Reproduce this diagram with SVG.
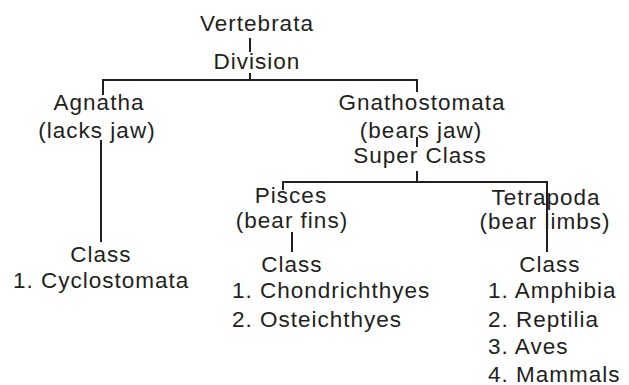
<svg xmlns="http://www.w3.org/2000/svg" width="629" height="385" viewBox="0 0 629 385">
<style>
text{font-family:"Liberation Sans",Arial,sans-serif;font-size:22.5px;letter-spacing:1px;fill:#231f20}
.c{text-anchor:middle}
.edge{stroke:#231f20;stroke-width:2;fill:none}
</style>
<rect width="629" height="385" fill="#fff"/>
<g id="connectors">
<path class="edge" d="M250 38V52"/>
<path class="edge" d="M250 73V80"/>
<path class="edge" d="M103 95V80H417V92"/>
<path class="edge" d="M101 140V242"/>
<path class="edge" d="M417 137V147"/>
<path class="edge" d="M417 171V182"/>
<path class="edge" d="M283 190V182H547V252"/>
<path class="edge" d="M292 232V252"/>
</g>
<g id="vertebrata"><text class="c" x="257" y="30.5">Vertebrata</text></g>
<g id="division"><text class="c" x="257" y="69">Division</text></g>
<g id="agnatha"><text class="c" x="99" y="110">Agnatha</text><text class="c" x="97" y="138">(lacks jaw)</text></g>
<g id="gnathostomata"><text class="c" x="422" y="110">Gnathostomata</text><text class="c" x="421" y="138">(bears jaw)</text></g>
<g id="superclass"><text class="c" x="420" y="162.5">Super Class</text></g>
<g id="pisces"><text class="c" x="291" y="202.5">Pisces</text><text class="c" x="292" y="228">(bear fins)</text></g>
<g id="tetrapoda"><text class="c" x="546" y="205">Tetrapoda</text><text class="c" x="545" y="229">(bear limbs)</text></g>
<g id="class-agnatha"><text class="c" x="101" y="261.5">Class</text><text x="13" y="288">1. Cyclostomata</text></g>
<g id="class-pisces"><text class="c" x="292" y="271.5">Class</text><text x="232" y="298">1. Chondrichthyes</text><text x="232" y="327">2. Osteichthyes</text></g>
<g id="class-tetrapoda"><text class="c" x="550" y="271.5">Class</text><text x="488" y="298">1. Amphibia</text><text x="488" y="327">2. Reptilia</text><text x="488" y="354">3. Aves</text><text x="488" y="381.5">4. Mammals</text></g>
</svg>
